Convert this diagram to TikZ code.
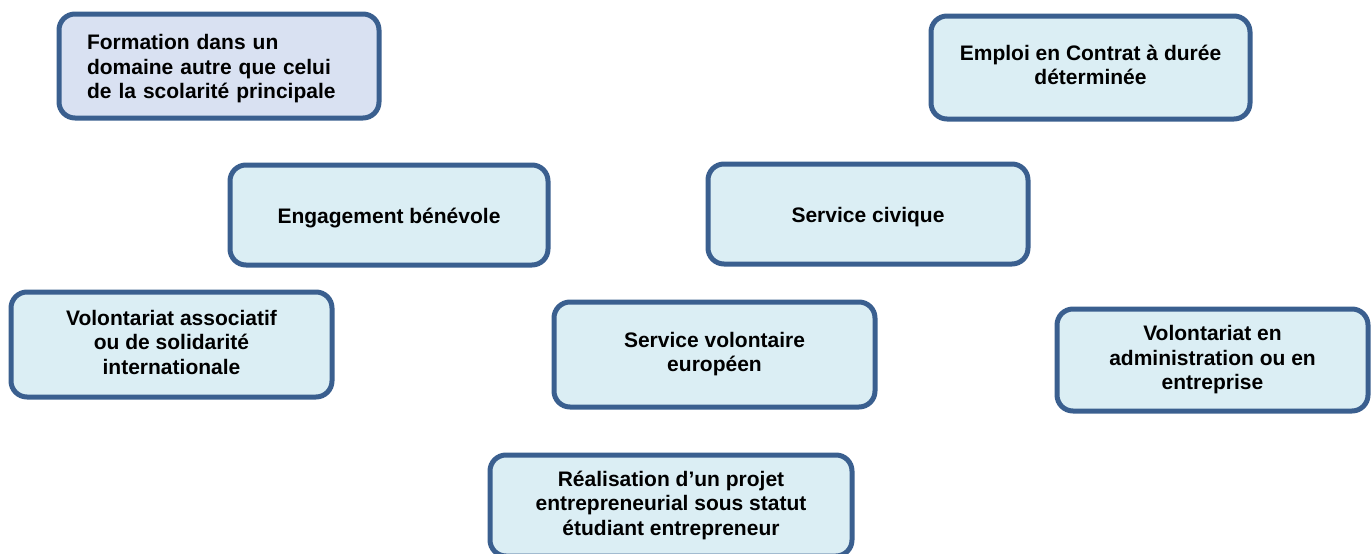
\documentclass[tikz,border=0pt]{standalone}
\usepackage{fontspec}
\setmainfont{Liberation Sans}
\definecolor{boxfill}{HTML}{DBEEF4}
\definecolor{boxfilltwo}{HTML}{D9E1F2}
\definecolor{boxline}{HTML}{3A5F8F}
\begin{document}
\begin{tikzpicture}[x=1pt,y=-1pt,
  card/.style={draw=boxline, fill=boxfill, line width=5pt, rounded corners=16pt,
    rectangle, inner sep=0pt, align=center,
    font=\fontsize{21}{24.5}\selectfont\bfseries, text=black,
    execute at begin node={\rule{0pt}{21pt}},
    execute at end node={\rule[-5pt]{0pt}{5pt}}}]
\useasboundingbox (0,0) rectangle (1371,554);
\clip (0,0) rectangle (1371,554);
\node[card, fill=boxfilltwo, minimum width=320pt, minimum height=104pt, text width=264pt, align=left] (formation) at (219,66)
  {Formation dans un\\domaine autre que celui\\de la scolarité principale};
\node[card, minimum width=319pt, minimum height=103pt] (emploi) at (1090.5,67.5)
  {Emploi en Contrat à durée\\déterminée};
\node[card, minimum width=318pt, minimum height=100pt] (engagement) at (389,215)
  {Engagement bénévole};
\node[card, minimum width=320pt, minimum height=100pt] (civique) at (868,214)
  {Service civique};
\node[card, minimum width=321pt, minimum height=105pt] (volassoc) at (171.5,344.5)
  {Volontariat associatif\\ou de solidarité\\internationale};
\node[card, minimum width=321pt, minimum height=105pt] (sve) at (714.5,354.5)
  {Service volontaire\\européen};
\node[card, minimum width=311pt, minimum height=102pt] (voladmin) at (1212.5,360)
  {Volontariat en\\administration ou en\\entreprise};
\node[card, minimum width=362pt, minimum height=101pt] (entrepreneur) at (671,505.5)
  {Réalisation d’un projet\\entrepreneurial sous statut\\étudiant entrepreneur};
\end{tikzpicture}
\end{document}
